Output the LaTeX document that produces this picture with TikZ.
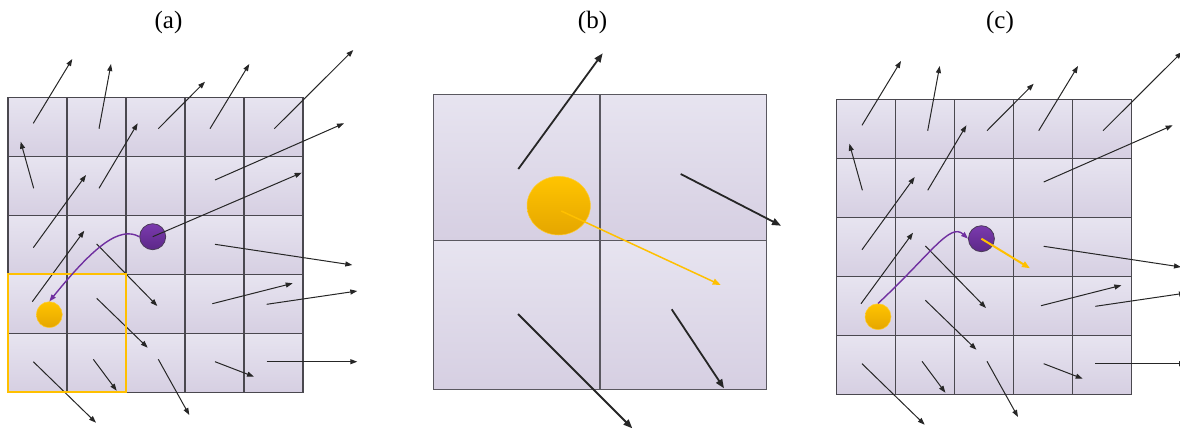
\documentclass[tikz,border=0pt]{standalone}
\usepackage{fontspec}
\setmainfont{Liberation Serif}
\usetikzlibrary{arrows.meta,shapes.geometric}
\definecolor{cellTop}{HTML}{E7E4F0}
\definecolor{cellBot}{HTML}{D6CFE2}
\definecolor{gridLine}{HTML}{4A484F}
\definecolor{gridLineB}{HTML}{5A5860}
\definecolor{arrowGray}{HTML}{262626}
\definecolor{purp}{HTML}{7030A0}
\definecolor{purpTop}{HTML}{7B3AAE}
\definecolor{purpBot}{HTML}{5C2888}
\definecolor{purpEdge}{HTML}{4A3A58}
\definecolor{gold}{HTML}{FFC000}
\definecolor{goldTop}{HTML}{FFC400}
\definecolor{goldBot}{HTML}{E5A600}
\tikzset{
  cell/.style={draw=gridLine, line width=1.3pt, top color=cellTop, bottom color=cellBot,
    minimum width=59pt, minimum height=59pt, inner sep=0pt, outer sep=0pt},
  bigcell/.style={cell, draw=gridLineB, line width=1.1pt, minimum width=166.7pt},
  vec/.style={draw=arrowGray, line width=1pt, -{Triangle[length=7pt,width=5pt]}},
  bigvec/.style={draw=arrowGray, line width=1.8pt, -{Triangle[length=9pt,width=7pt]}},
  goldvec/.style={draw=gold, line width=1.5pt, -{Triangle[length=8pt,width=6pt]}},
  purpball/.style={circle, draw=purpEdge, line width=0.8pt, top color=purpTop, bottom color=purpBot,
    minimum size=26pt, inner sep=0pt},
  goldball/.style={circle, draw=gold!80!white, line width=0.5pt, top color=goldTop, bottom color=goldBot,
    minimum size=26pt, inner sep=0pt},
  path/.style={draw=purp, line width=1.4pt, -{Triangle[length=7pt,width=5pt]}},
  highlight/.style={draw=gold, line width=1.8pt},
  panellabel/.style={anchor=base, font=\fontsize{25}{28}\selectfont, inner sep=0pt},
}
\newcommand\mygrid{%
  \foreach \i in {0,...,4}{
    \foreach \j in {0,...,4}{
      \node[cell] (c\i\j) at ({37.5+59*\i},{126.8+59*\j}) {};
    }
  }%
}
\newcommand\myfield{%
  \foreach \sx/\sy/\ex/\ey [count=\k] in {
    33.3/123.3/72.3/59, 99/128.7/111/64, 158.3/128.7/205/81.7, 210/128.7/249.3/64,
    274.3/128.7/353.3/50,
    33.7/188.3/20.7/141.7, 99/188.3/137.7/123.3, 215/180/344/123.3,
    33.3/247.7/86/175, 96.7/244/157.3/306, 215/244.3/352.3/265,
    32.3/301.7/84.3/230.7, 96.7/298.3/147.7/347.7, 212.3/303.7/292.7/283.3,
    266.7/304.3/357.3/291,
    33.3/361.7/96/422.7, 93.3/359.3/116.7/390.7, 158.3/359.3/189.3/415,
    215/361.7/254/376.7, 266.7/361.7/357.3/361.7}{
    \coordinate (s\k) at (\sx,\sy);
    \coordinate (e\k) at (\ex,\ey);
    \draw[vec] (s\k) -- (e\k);
  }%
}
\begin{document}
\begin{tikzpicture}[x=1pt,y=-1pt]
\path[use as bounding box] (0,0) rectangle (1180,429);
\begin{scope}
\clip (0,0) rectangle (1180,429);

% labels
\node[panellabel] (la) at (168.5,28.5) {(a)};
\node[panellabel] (lb) at (592.5,28.5) {(b)};
\node[panellabel] (lc) at (1000,28.5) {(c)};

% ---------- panel (a)
\begin{scope}[name prefix=a-]
  \mygrid
  \myfield
  \node[purpball] (P) at (152.7,236.7) {};
  \node[goldball] (Y) at (49.3,314.7) {};
  \coordinate (pe) at (301.7,172.7);
  \draw[vec] (P.center) -- (pe);
  \draw[highlight] (c03.north west) rectangle (c14.south east);
  \draw[path] (P.west) .. controls (120,226) and (95,245) .. (Y.north);
\end{scope}

% ---------- panel (b)
\begin{scope}[name prefix=b-]
  \node[bigcell, minimum height=146pt] (b00) at (516.65,167.3) {};
  \node[bigcell, minimum height=146pt] (b10) at (683.35,167.3) {};
  \node[bigcell, minimum height=149pt] (b01) at (516.65,314.8) {};
  \node[bigcell, minimum height=149pt] (b11) at (683.35,314.8) {};
  \coordinate (s1) at (518.3,169);   \coordinate (e1) at (602.7,53.3);
  \coordinate (s2) at (680.7,174);   \coordinate (e2) at (781,225.7);
  \coordinate (s3) at (518,314);     \coordinate (e3) at (632.3,428.3);
  \coordinate (s4) at (671.7,309.3); \coordinate (e4) at (724,388.3);
  \draw[bigvec] (s1) -- (e1);
  \draw[bigvec] (s2) -- (e2);
  \draw[bigvec] (s3) -- (e3);
  \draw[bigvec] (s4) -- (e4);
  \node[ellipse, draw=gold!80!white, line width=0.5pt, top color=goldTop, bottom color=goldBot,
        minimum width=63.4pt, minimum height=58.6pt, inner sep=0pt] (Y) at (558.7,205.7) {};
  \coordinate (ye) at (720.7,285);
  \draw[goldvec] (Y.center) ++(2.6,5.3) coordinate (ys) (ys) -- (ye);
\end{scope}

% ---------- panel (c)
\begin{scope}[shift={(828.7,2)}, name prefix=c-]
  \mygrid
  \myfield
  \node[purpball] (P) at (152.7,236.7) {};
  \node[goldball] (Y) at (49.3,314.7) {};
  \coordinate (pe) at (201.3,266.3);
  \draw[goldvec, line width=2pt] (P.center) -- (pe);
  \draw[path] (Y.north) .. controls (101.3,253) and (121.3,220) .. (P.west);
\end{scope}
\end{scope}
\end{tikzpicture}
\end{document}
